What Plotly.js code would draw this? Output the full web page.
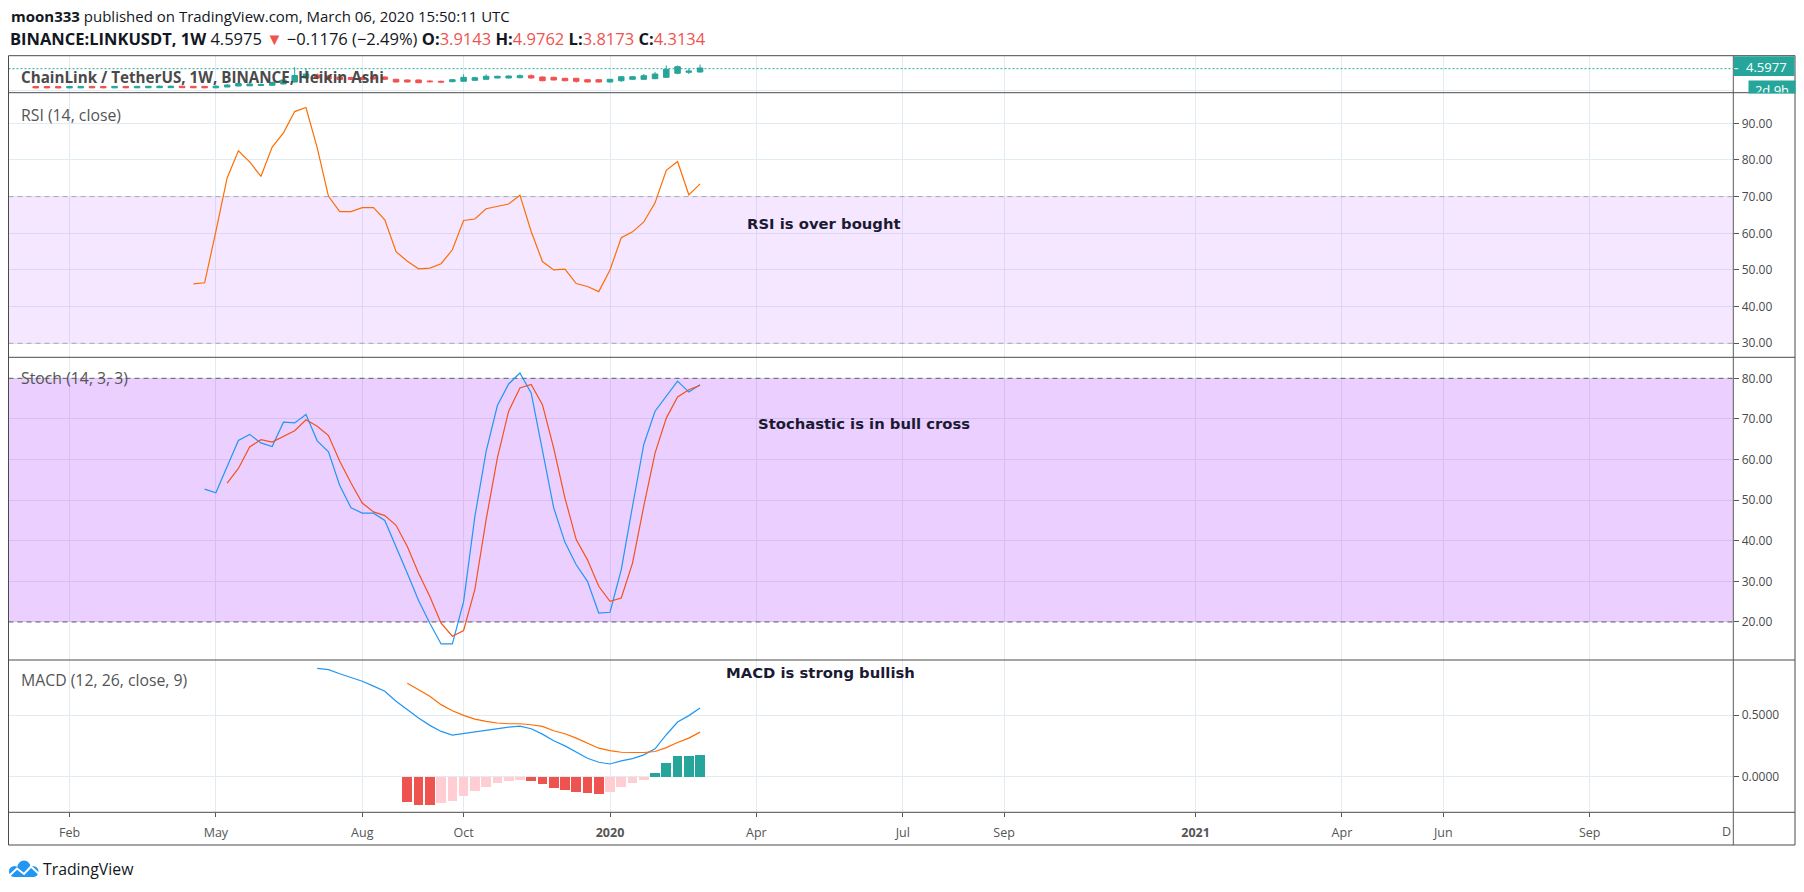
<!DOCTYPE html>
<html><head><meta charset="utf-8">
<script src="https://cdn.plot.ly/plotly-3.0.1.min.js"></script>
<style>body{margin:0;background:#fff}</style>
</head><body>
<div id="chart" style="width:1804px;height:892px"></div>
<script>
// ---------- DATA ----------
const weeks = ['2019-01-14','2019-01-21','2019-01-28','2019-02-04','2019-02-11','2019-02-18','2019-02-25','2019-03-04','2019-03-11','2019-03-18','2019-03-25','2019-04-01','2019-04-08','2019-04-15','2019-04-22','2019-04-29','2019-05-06','2019-05-13','2019-05-20','2019-05-27','2019-06-03','2019-06-10','2019-06-17','2019-06-24','2019-07-01','2019-07-08','2019-07-15','2019-07-22','2019-07-29','2019-08-05','2019-08-12','2019-08-19','2019-08-26','2019-09-02','2019-09-09','2019-09-16','2019-09-23','2019-09-30','2019-10-07','2019-10-14','2019-10-21','2019-10-28','2019-11-04','2019-11-11','2019-11-18','2019-11-25','2019-12-02','2019-12-09','2019-12-16','2019-12-23','2019-12-30','2020-01-06','2020-01-13','2020-01-20','2020-01-27','2020-02-03','2020-02-10','2020-02-17','2020-02-24','2020-03-02'];

// Heikin Ashi candles as seen in the compressed price strip
const haOpen  = [0.85,0.84,0.83,0.55,0.56,0.86,0.85,0.56,0.86,0.57,0.58,0.59,0.60,0.90,0.88,0.87,0.57,0.74,0.95,0.99,1.05,1.10,1.37,1.79,2.64,3.27,3.06,2.85,2.74,2.74,2.85,2.85,2.36,2.22,2.22,2.00,1.94,1.86,1.94,2.15,2.36,2.64,2.64,2.70,3.12,2.85,2.78,2.57,2.57,2.28,2.28,1.79,2.07,2.36,2.36,2.49,2.78,3.63,3.84,3.90];
const haHigh  = [0.95,0.92,0.90,0.93,0.95,0.98,0.95,0.96,0.96,0.96,0.97,1.05,1.02,0.98,0.95,0.95,1.10,1.35,1.75,1.60,1.50,1.90,2.50,4.94,4.70,3.60,3.30,3.00,2.90,3.00,3.00,2.95,2.45,2.30,2.30,2.15,2.10,2.40,3.42,2.90,3.42,3.10,3.20,3.42,3.42,2.95,2.90,2.65,2.65,2.35,2.35,2.45,3.00,3.00,3.48,3.90,5.27,5.27,4.58,5.48];
const haLow   = [0.45,0.48,0.47,0.48,0.50,0.50,0.48,0.50,0.50,0.52,0.52,0.53,0.55,0.52,0.50,0.50,0.50,0.70,0.90,0.90,0.90,1.00,1.30,1.70,2.40,2.30,2.10,2.10,2.20,2.20,2.30,2.20,1.70,1.70,1.55,1.70,1.60,1.75,1.85,2.05,2.30,2.55,2.55,2.60,2.50,1.95,2.10,1.95,1.65,1.70,1.70,1.70,1.79,2.30,2.30,2.40,2.70,3.42,3.48,3.80];
const haClose = [0.55,0.56,0.55,0.84,0.86,0.57,0.56,0.86,0.57,0.87,0.88,0.90,0.90,0.60,0.58,0.57,0.91,1.16,1.48,1.37,1.27,1.69,2.22,3.16,3.48,2.64,2.43,2.32,2.32,2.32,2.43,2.36,1.79,1.79,1.65,1.86,1.79,2.28,2.78,2.70,3.00,3.00,3.06,3.12,2.64,2.07,2.22,2.07,1.94,1.79,1.79,2.36,2.91,2.91,3.12,3.48,4.47,5.02,4.11,4.75];
const lastPrice = 4.5977;

// RSI(14) from 2019-04-22
const rsi = [46.2,46.5,60.5,75.1,82.5,79.5,75.5,83.5,87.4,93.2,94.3,83.3,70.1,65.9,65.9,67.0,67.0,63.7,55.0,52.4,50.3,50.5,51.7,55.5,63.5,63.9,66.7,67.3,68.0,70.4,60.5,52.3,50.0,50.2,46.3,45.5,44.1,50.0,58.8,60.4,63.1,68.3,77.2,79.6,70.5,73.5];
// Stoch %K from 2019-04-29, %D from 2019-05-13
const stochK = [52.7,51.8,58.3,64.7,66.2,64.1,63.2,69.2,69.0,71.1,64.6,61.9,53.6,48.1,46.8,46.8,45.0,38.6,32.0,25.3,19.7,14.6,14.6,25.0,46.0,62.0,73.3,78.6,81.3,76.4,62.4,48.1,39.6,34.1,30.0,22.2,22.4,32.9,48.5,63.7,71.9,75.6,79.3,76.6,78.4];
const stochD = [54.2,57.8,63.1,64.9,64.3,65.6,67.1,69.8,68.2,65.9,59.6,54.2,49.3,47.1,46.2,43.8,38.6,32.0,26.3,19.7,16.5,17.9,28.0,45.2,60.4,71.9,77.6,78.5,73.5,62.8,50.5,40.3,35.3,28.8,25.1,25.9,34.5,48.5,61.6,70.2,75.4,77.2,78.3];
// MACD from 2019-07-08, signal & histogram from 2019-09-02
const macd = [0.878,0.867,0.834,0.807,0.774,0.734,0.693,0.611,0.543,0.476,0.416,0.367,0.337,0.351,0.361,0.380,0.391,0.402,0.410,0.389,0.345,0.291,0.250,0.198,0.149,0.117,0.103,0.128,0.147,0.177,0.226,0.340,0.443,0.495,0.557];
const signal = [0.758,0.707,0.652,0.584,0.535,0.497,0.467,0.448,0.435,0.429,0.429,0.421,0.408,0.372,0.348,0.3125,0.272,0.231,0.212,0.198,0.196,0.196,0.204,0.236,0.277,0.3125,0.361];
const hist = [-0.204,-0.226,-0.226,-0.215,-0.196,-0.155,-0.114,-0.082,-0.052,-0.033,-0.024,-0.033,-0.0625,-0.095,-0.106,-0.125,-0.133,-0.144,-0.122,-0.082,-0.054,-0.024,0.027,0.109,0.168,0.170,0.179];

const tickDates = ['2019-02-04','2019-05-06','2019-08-05','2019-10-07','2020-01-06','2020-04-06','2020-07-06','2020-09-07','2021-01-04','2021-04-05','2021-06-07','2021-09-06'];
const tickLabels = ['Feb','May','Aug','Oct','<b>2020</b>','Apr','Jul','Sep','<b>2021</b>','Apr','Jun','Sep'];
const rsiTicks = [30,40,50,60,70,80,90];
const stochTicks = [20,30,40,50,60,70,80];
const macdTicks = [0,0.5];

// ---------- LAYOUT HELPERS ----------
const W = 1804, H = 892;
const px = x => x / W;
const py = y => 1 - y / H;
const L = 8.5, R = 1733.3, FR = 1795;
const xRange = ['2018-12-28 02:00','2021-12-04 07:00'];
const TEAL = '#26a69a', RED = '#ef5350';
const GRID = '#e1ecf2', FRAME = '#4a4a4a';

const histColors = hist.map((v,i)=>{
  const p = i>0 ? hist[i-1] : null;
  if (v >= 0) return (p!==null && p < v) ? TEAL : '#b2dfdb';
  return (p!==null && p < v) ? '#ffcdd2' : RED;
});

const traces = [
  {type:'candlestick', x:weeks, open:haOpen, high:haHigh, low:haLow, close:haClose,
   xaxis:'x', yaxis:'y', whiskerwidth:0,
   increasing:{line:{color:TEAL,width:1}, fillcolor:TEAL},
   decreasing:{line:{color:RED,width:1}, fillcolor:RED}, hoverinfo:'skip'},
  {type:'scatter', mode:'lines', x:weeks.slice(14), y:rsi, xaxis:'x', yaxis:'y2',
   line:{color:'#ff6d00', width:1.2}},
  {type:'scatter', mode:'lines', x:weeks.slice(15), y:stochK, xaxis:'x', yaxis:'y3',
   line:{color:'#2196f3', width:1.2}},
  {type:'scatter', mode:'lines', x:weeks.slice(17), y:stochD, xaxis:'x', yaxis:'y3',
   line:{color:'#f4511e', width:1.2}},
  {type:'bar', x:weeks.slice(33), y:hist, xaxis:'x', yaxis:'y4',
   width:0.86*7*86400000, marker:{color:histColors, line:{width:0}}},
  {type:'scatter', mode:'lines', x:weeks.slice(25), y:macd, xaxis:'x', yaxis:'y4',
   line:{color:'#2196f3', width:1.2}},
  {type:'scatter', mode:'lines', x:weeks.slice(33), y:signal, xaxis:'x', yaxis:'y4',
   line:{color:'#ff6d00', width:1.2}}
];

const yBase = {anchor:'x', side:'right', showgrid:true, gridcolor:GRID, gridwidth:1,
  zeroline:false, showline:false, ticks:'outside', ticklen:5, tickwidth:1, tickcolor:'#555',
  tickfont:{size:12, color:'#4a4a4a', family:'Open Sans'}, fixedrange:true};

function hline(yref, yv, color, dash){
  return {type:'line', xref:'x', yref:yref, x0:xRange[0], x1:xRange[1], y0:yv, y1:yv,
    line:{color:color, width:1, dash:dash}, layer:'between'};
}
function band(yref, a, b, color){
  return {type:'rect', xref:'x', yref:yref, x0:xRange[0], x1:xRange[1], y0:a, y1:b,
    fillcolor:color, line:{width:0}, layer:'between'};
}
function pline(x0,y0,x1,y1,color,w){
  return {type:'line', xref:'paper', yref:'paper', x0:px(x0), y0:py(y0), x1:px(x1), y1:py(y1),
    line:{color:color||FRAME, width:w||1}, layer:'above'};
}
function pcircle(cx,cy,r,color){
  return {type:'circle', xref:'paper', yref:'paper', x0:px(cx-r), x1:px(cx+r), y0:py(cy+r), y1:py(cy-r),
    fillcolor:color, line:{width:0}, layer:'above'};
}
function prect(x0,y0,x1,y1,color){
  return {type:'rect', xref:'paper', yref:'paper', x0:px(x0), x1:px(x1), y0:py(y1), y1:py(y0),
    fillcolor:color, line:{width:0}, layer:'above'};
}
function ppath(pts,color,w){
  const d = pts.map((p,i)=>(i?'L':'M')+px(p[0]).toFixed(5)+','+py(p[1]).toFixed(5)).join(' ');
  return {type:'path', xref:'paper', yref:'paper', path:d, line:{color:color,width:w}, layer:'above'};
}

const shapes = [
  band('y2',30,70,'rgba(153,21,255,0.10)'),
  hline('y2',70,'#a8a8b0','5px,4px'),
  hline('y2',30,'#a8a8b0','5px,4px'),
  band('y3',20,80,'rgba(153,21,255,0.20)'),
  hline('y3',80,'#5d5d66','5px,4px'),
  hline('y3',20,'#5d5d66','5px,4px'),
  {type:'line', xref:'x', yref:'y', x0:xRange[0], x1:xRange[1], y0:lastPrice, y1:lastPrice,
   line:{color:TEAL, width:1, dash:'2px,2px'}, layer:'between'},
  // frame
  pline(L,55.7,FR,55.7), pline(L,92.7,FR,92.7), pline(L,357.3,FR,357.3),
  pline(L,660,FR,660), pline(L,812.3,FR,812.3), pline(L,845,FR,845),
  pline(L,55.7,L,845), pline(FR,55.7,FR,845), pline(R,55.7,R,845,'#5a5a5a'),
  // price label boxes
  prect(R+0.5,56.2,FR-0.5,76,TEAL),
  pline(R+1,68.7,R+5,68.7,'#ffffff'),
  // logo
  pcircle(24,867,6.5,'#2196f3'), pcircle(14.5,871.5,5.5,'#2196f3'), pcircle(33,871.5,5.5,'#2196f3'),
  prect(14.5,869,33,877,'#2196f3'),
  ppath([[9,876],[17,868.5],[24,874],[31,866.5],[39.5,874.5]],'#ffffff',2)
];

const ann = (o)=>Object.assign({xref:'paper', yref:'paper', showarrow:false, xanchor:'left', yanchor:'middle'}, o);
const noteFont = {family:'DejaVu Sans', size:14.8, color:'#1b1a33'};
const redS = s => '<span style="color:#ef5350">'+s+'</span>';
const legFont = {size:15.8, color:'#555'};
const annotations = [
  ann({x:px(9), y:py(16), text:'<b>moon333</b> published on TradingView.com, March 06, 2020 15:50:11 UTC',
       font:{size:15, color:'#131722'}}),
  ann({x:px(8), y:py(38), text:'<b>BINANCE:LINKUSDT, 1W</b> 4.5975 '+redS('▼')+' \u22120.1176 (\u22122.49%) <b>O:</b>'+redS('3.9143')+' <b>H:</b>'+redS('4.9762')+' <b>L:</b>'+redS('3.8173')+' <b>C:</b>'+redS('4.3134'),
       font:{size:16.5, color:'#131722'}}),
  ann({x:px(19), y:py(77), text:'<b>ChainLink / TetherUS, 1W, BINANCE, Heikin Ashi</b>', font:{size:15.2, color:'#4a4a4a'}}),
  ann({x:px(19), y:py(114.7), text:'RSI (14, close)', font:legFont}),
  ann({x:px(19), y:py(378.5), text:'Stoch (14, 3, 3)', font:legFont}),
  ann({x:px(19), y:py(680), text:'MACD (12, 26, close, 9)', font:legFont}),
  ann({x:px(824), y:py(223), xanchor:'center', text:'<b>RSI is over bought</b>', font:noteFont}),
  ann({x:px(864), y:py(423), xanchor:'center', text:'<b>Stochastic is in bull cross</b>', font:noteFont}),
  ann({x:px(820), y:py(672), xanchor:'center', text:'<b>MACD is strong bullish</b>', font:noteFont}),
  ann({x:px(1766), y:py(66.5), xanchor:'center', text:'4.5977', font:{size:13, color:'#ffffff'}}),
  ann({x:px(1771.5), y:py(80), xanchor:'center', yanchor:'top', width:46, height:11.5, valign:'top',
       borderpad:0, bgcolor:TEAL, text:'2d 9h', font:{size:13, color:'#ffffff'}}),
  ann({x:px(1733), y:py(831.7), xanchor:'right', text:'D', font:{size:12.5, color:'#555'}}),
  ann({x:px(41), y:py(869), text:'TradingView', font:{size:15.8, color:'#131722'}})
];

const layout = {
  width:W, height:H, margin:{l:0,r:0,t:0,b:0}, paper_bgcolor:'#ffffff', plot_bgcolor:'#ffffff',
  showlegend:false, hovermode:false, bargap:0,
  font:{family:'Open Sans', color:'#4a4a4a', size:12},
  xaxis:{domain:[px(L),px(R)], type:'date', range:xRange, anchor:'y4',
    tickmode:'array', tickvals:tickDates, ticktext:tickLabels,
    ticks:'outside', ticklen:4, tickcolor:'#555', tickwidth:1,
    showgrid:true, gridcolor:GRID, gridwidth:1, showline:false, zeroline:false,
    rangeslider:{visible:false}, tickfont:{size:12.5, color:'#555'}, ticklabelstandoff:5, fixedrange:true},
  yaxis:Object.assign({}, yBase, {domain:[py(92.7),py(55.7)], range:[-0.464,7.342],
    tickmode:'array', tickvals:[0], showticklabels:false, ticks:''}),
  yaxis2:Object.assign({}, yBase, {domain:[py(357.3),py(92.7)], range:[26.18,98.35],
    tickmode:'array', tickvals:rsiTicks, tickformat:'.2f'}),
  yaxis3:Object.assign({}, yBase, {domain:[py(660),py(357.3)], range:[10.64,85.17],
    tickmode:'array', tickvals:stochTicks, tickformat:'.2f'}),
  yaxis4:Object.assign({}, yBase, {domain:[py(812.3),py(660)], range:[-0.2885,0.9457],
    tickmode:'array', tickvals:macdTicks, tickformat:'.4f'}),
  shapes:shapes, annotations:annotations
};

Plotly.newPlot('chart', traces, layout, {displayModeBar:false, staticPlot:true});
</script>
</body></html>
